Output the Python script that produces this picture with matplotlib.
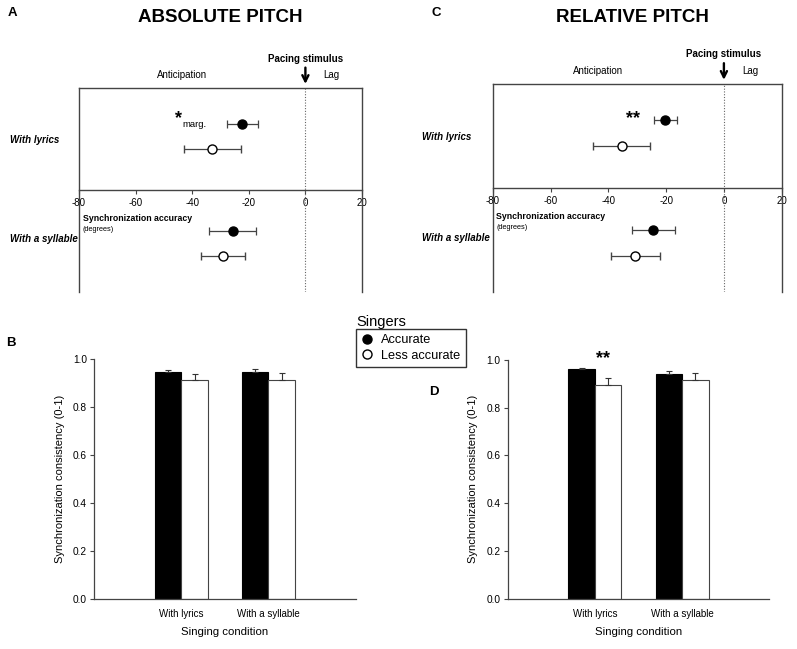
import matplotlib
matplotlib.use("Agg")
import matplotlib.pyplot as plt
from matplotlib.lines import Line2D
import matplotlib.transforms as mtransforms

plt.rcParams['font.family'] = ['Liberation Sans', 'DejaVu Sans']

# ---------------- data ----------------
conditions = ["With lyrics", "With a syllable"]
groups = ["Accurate", "Less accurate"]

# Synchronization accuracy (degrees): mean and error, per condition
abs_acc_mean = [-22.3, -25.7]
abs_acc_err = [5.4, 8.2]
abs_less_mean = [-32.9, -29.1]
abs_less_err = [10.0, 7.9]

rel_acc_mean = [-20.3, -24.4]
rel_acc_err = [4.0, 7.5]
rel_less_mean = [-35.4, -30.7]
rel_less_err = [10.0, 8.5]

# Synchronization consistency (0-1)
abs_cons_acc = [0.947, 0.945]
abs_cons_acc_err = [0.008, 0.012]
abs_cons_less = [0.911, 0.914]
abs_cons_less_err = [0.028, 0.026]

rel_cons_acc = [0.960, 0.940]
rel_cons_acc_err = [0.004, 0.013]
rel_cons_less = [0.896, 0.915]
rel_cons_less_err = [0.027, 0.028]

x_ticks_acc = [-80, -60, -40, -20, 0, 20]
y_ticks_cons = [0.0, 0.2, 0.4, 0.6, 0.8, 1.0]

W, H = 797, 649
fig = plt.figure(figsize=(W / 100, H / 100), dpi=100)

def rect(l, t, r, b):
    return [l / W, 1 - b / H, (r - l) / W, (b - t) / H]

SPINE = '#444444'

def accuracy_panel(ax, acc_m, acc_e, less_m, less_e, title, letter, title_xy, letter_xy, sig, sig_xy, marg):
    ax.set_xlim(-80, 20)
    ax.set_ylim(-4, 4)
    for s in ['top', 'bottom', 'left', 'right']:
        ax.spines[s].set_color(SPINE)
        ax.spines[s].set_linewidth(1.0)
    ax.spines['bottom'].set_position(('data', 0))
    ax.set_yticks([])
    ax.set_xticks(x_ticks_acc)
    ax.set_xticklabels([str(v) for v in x_ticks_acc])
    ax.tick_params(axis='x', direction='out', length=3, width=0.8, color=SPINE,
                   labelsize=7, pad=3)
    ax.axvline(0, color='#666666', lw=0.8, ls=(0, (1, 1.5)))
    ypos_acc = [2.6, -1.6]
    ypos_less = [1.6, -2.6]
    ax.errorbar(acc_m, ypos_acc, xerr=acc_e, fmt='o', color='black', ms=6.5,
                mfc='black', mec='black', ecolor='#444444', elinewidth=0.9,
                capsize=3, capthick=0.9, zorder=3)
    ax.errorbar(less_m, ypos_less, xerr=less_e, fmt='o', color='black', ms=6.5,
                mfc='white', mec='black', mew=1.0, ecolor='#444444', elinewidth=0.9,
                capsize=3, capthick=0.9, zorder=3)
    # row labels
    tr = mtransforms.blended_transform_factory(ax.transAxes, ax.transData)
    ax.text(-0.243, 1.95, conditions[0], transform=tr, fontsize=7, fontweight='bold',
            fontstyle='italic', ha='left', va='center')
    ax.text(-0.243, -1.93, conditions[1], transform=tr, fontsize=7, fontweight='bold',
            fontstyle='italic', ha='left', va='center')
    ax.text(-78.7, -1.1, "Synchronization accuracy", fontsize=6.3, fontweight='bold',
            ha='left', va='center')
    ax.text(-78.7, -1.53, "(degrees)", fontsize=5.3, ha='left', va='center')
    # top annotations
    trt = mtransforms.blended_transform_factory(ax.transData, ax.transAxes)
    ax.text(0, 1.143, "Pacing stimulus", transform=trt, fontsize=7, fontweight='bold',
            ha='center', va='center')
    ax.text(-43.6, 1.063, "Anticipation", transform=trt, fontsize=7, ha='center', va='center')
    ax.text(9.1, 1.063, "Lag", transform=trt, fontsize=7, ha='center', va='center')
    ax.annotate('', xy=(0, 1.02), xytext=(0, 1.10), xycoords=trt, textcoords=trt,
                arrowprops=dict(arrowstyle='->', lw=1.7, color='black',
                                mutation_scale=11, shrinkA=0, shrinkB=0),
                annotation_clip=False)
    ax.text(sig_xy[0], sig_xy[1], sig, fontsize=13, fontweight='bold', ha='center', va='center')
    if marg:
        ax.text(-43.3, 2.55, "marg.", fontsize=6.8, ha='left', va='center')
    fig.text(title_xy[0] / W, 1 - title_xy[1] / H, title, fontsize=13.5, fontweight='bold',
             ha='center', va='center')
    fig.text(letter_xy[0] / W, 1 - letter_xy[1] / H, letter, fontsize=9.5, fontweight='bold',
             ha='center', va='center')


def consistency_panel(ax, acc, acc_e, less, less_e, letter, letter_xy, sig=None):
    xs = [1, 2]
    w = 0.305
    ax.bar([x - w / 2 for x in xs], acc, width=w, color='black', edgecolor='black', lw=0.8,
           yerr=[[0] * len(acc), acc_e], error_kw=dict(ecolor='#333333', elinewidth=0.8,
                                                      capsize=2.3, capthick=0.8), zorder=2)
    ax.bar([x + w / 2 for x in xs], less, width=w, color='white', edgecolor='#444444', lw=0.8,
           yerr=[[0] * len(less), less_e], error_kw=dict(ecolor='#333333', elinewidth=0.8,
                                                        capsize=2.3, capthick=0.8), zorder=2)
    ax.set_xlim(0, 3)
    ax.set_ylim(0, 1.0)
    ax.set_xticks(xs)
    ax.set_xticklabels(conditions)
    ax.set_yticks(y_ticks_cons)
    ax.set_yticklabels([f"{v:.1f}" for v in y_ticks_cons])
    for s in ['top', 'right']:
        ax.spines[s].set_visible(False)
    for s in ['left', 'bottom']:
        ax.spines[s].set_color(SPINE)
        ax.spines[s].set_linewidth(0.9)
    ax.tick_params(axis='x', length=0, labelsize=7, pad=7)
    ax.tick_params(axis='y', direction='out', length=3, width=0.8, color=SPINE,
                   labelsize=7.3, pad=2)
    ax.set_xlabel("Singing condition", fontsize=8.2, labelpad=6)
    ax.set_ylabel("Synchronization consistency (0-1)", fontsize=8, labelpad=6)
    fig.text(letter_xy[0] / W, 1 - letter_xy[1] / H, letter, fontsize=9.5, fontweight='bold',
             ha='center', va='center')
    if sig:
        t = ax.text(sig[0], sig[1], sig[2], fontsize=13, fontweight='bold', ha='center',
                    va='center')
        t.set_clip_on(False)


axA = fig.add_axes(rect(79, 88, 362, 292))
accuracy_panel(axA, abs_acc_mean, abs_acc_err, abs_less_mean, abs_less_err,
               "ABSOLUTE PITCH", "A", (220, 17), (12, 13), "*", (-44.7, 2.8), True)

axC = fig.add_axes(rect(492.7, 84, 781.7, 292))
accuracy_panel(axC, rel_acc_mean, rel_acc_err, rel_less_mean, rel_less_err,
               "RELATIVE PITCH", "C", (632, 18), (436, 13), "**", (-31.5, 2.68), False)

axB = fig.add_axes(rect(94, 359, 355.7, 599))
consistency_panel(axB, abs_cons_acc, abs_cons_acc_err, abs_cons_less, abs_cons_less_err,
                  "B", (11, 343))

axD = fig.add_axes(rect(507.7, 359.7, 769.3, 599))
consistency_panel(axD, rel_cons_acc, rel_cons_acc_err, rel_cons_less, rel_cons_less_err,
                  "D", (434, 392), sig=(1.09, 1.005, "**"))

# legend
handles = [Line2D([], [], marker='o', ls='none', mfc='black', mec='black', ms=6.5),
           Line2D([], [], marker='o', ls='none', mfc='white', mec='black', mew=1.0, ms=6.5)]
leg = fig.legend(handles, groups, loc='upper left',
                 bbox_to_anchor=(355.7 / W, 1 - 329.3 / H), frameon=True, fancybox=False,
                 edgecolor='black', fontsize=9.2, handlelength=1.0, handletextpad=0.6,
                 borderpad=0.4, labelspacing=0.25, borderaxespad=0)
leg.get_frame().set_linewidth(1.0)
fig.text(356.5 / W, 1 - 322 / H, "Singers", fontsize=10.5, ha='left', va='center')

fig.savefig("out.png", dpi=100)
